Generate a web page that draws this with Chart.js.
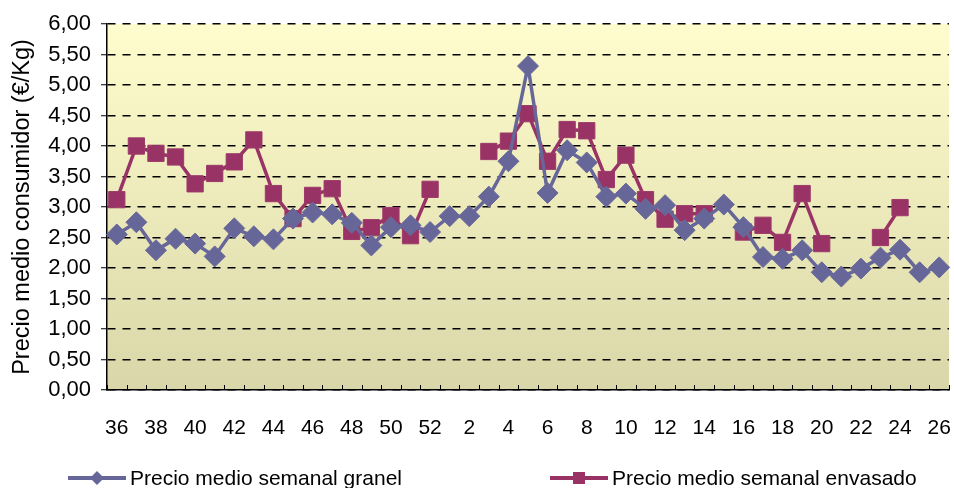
<!DOCTYPE html>
<html>
<head>
<meta charset="utf-8">
<script src="https://cdn.jsdelivr.net/npm/chart.js@4.4.1/dist/chart.umd.min.js"></script>
<style>
  html,body{margin:0;padding:0;background:#fff;}
  #wrap{position:relative;width:954px;height:488px;}
  canvas{position:absolute;left:0;top:0;}
  .lg{position:absolute;font-family:"Liberation Sans",Arial,sans-serif;font-size:21px;color:#000;white-space:nowrap;line-height:24px;}
  .lgi{position:absolute;}
</style>
</head>
<body>
<div id="wrap">
  <canvas id="c" width="954" height="488"></canvas>
  <svg class="lgi" style="left:68px;top:469px" width="58" height="18"><line x1="0" y1="9" x2="58" y2="9" stroke="#666699" stroke-width="4"/><polygon points="29,2 36,9 29,16 22,9" fill="#666699"/></svg>
  <div class="lg" id="lg1" style="left:130px;top:466px"></div>
  <svg class="lgi" style="left:550px;top:469px" width="58" height="18"><line x1="0" y1="9" x2="58" y2="9" stroke="#993366" stroke-width="4"/><rect x="23" y="3" width="12" height="12" fill="#993366"/></svg>
  <div class="lg" id="lg2" style="left:612px;top:466px"></div>
</div>
<script>
const weeks = ['36','37','38','39','40','41','42','43','44','45','46','47','48','49','50','51','52',
  '1','2','3','4','5','6','7','8','9','10','11','12','13','14','15','16','17','18','19','20','21','22','23','24','25','26'];
const granel = [2.55,2.75,2.29,2.48,2.40,2.19,2.65,2.52,2.47,2.81,2.91,2.88,2.74,2.37,2.67,2.70,2.59,
  2.85,2.85,3.17,3.75,5.31,3.23,3.93,3.73,3.17,3.22,2.97,3.03,2.62,2.81,3.04,2.67,2.18,2.15,2.29,1.93,1.86,1.99,2.17,2.30,1.93,2.01];
const envasado = [3.12,4.00,3.88,3.82,3.38,3.55,3.74,4.10,3.22,2.81,3.19,3.30,2.60,2.66,2.86,2.53,3.29,
  null,null,3.91,4.08,4.53,3.75,4.27,4.25,3.45,3.85,3.12,2.80,2.89,2.89,null,2.59,2.70,2.42,3.22,2.40,null,null,2.50,2.99,null,null];
const seriesNames = ['Precio medio semanal granel','Precio medio semanal envasado'];
const yTitle = 'Precio medio consumidor (€/Kg)';

document.getElementById('lg1').textContent = seriesNames[0];
document.getElementById('lg2').textContent = seriesNames[1];

const FONT = '"Liberation Sans", Arial, sans-serif';

const bgPlugin = {
  id: 'bgPlugin',
  beforeDraw(chart) {
    const a = chart.chartArea, ctx = chart.ctx;
    const g = ctx.createLinearGradient(0, a.top, 0, a.bottom);
    g.addColorStop(0, '#FFFDCD');
    g.addColorStop(1, '#D9D6A9');
    ctx.save();
    ctx.fillStyle = g;
    ctx.fillRect(a.left, a.top, a.right - a.left, a.bottom - a.top);
    ctx.restore();
  }
};

const innerTicks = {
  id: 'innerTicks',
  afterDatasetsDraw(chart) {
    const x = chart.scales.x, a = chart.chartArea, ctx = chart.ctx;
    ctx.save();
    ctx.strokeStyle = '#000';
    ctx.lineWidth = 1;
    ctx.beginPath();
    for (let i = 0; i <= weeks.length; i++) {
      const px = Math.round(x.getPixelForValue(i - 0.5)) + 0.5;
      ctx.moveTo(px, a.bottom);
      ctx.lineTo(px, a.bottom - 5);
    }
    ctx.stroke();
    ctx.restore();
  }
};

new Chart(document.getElementById('c'), {
  type: 'line',
  data: {
    labels: weeks,
    datasets: [
      {
        label: seriesNames[0], data: granel,
        borderColor: '#666699', backgroundColor: '#666699',
        borderWidth: 3.5, pointStyle: 'rectRot', pointRadius: 10.5,
        pointBorderColor: '#6a6a9c', pointBorderWidth: 1, pointBackgroundColor: '#666699',
        tension: 0, spanGaps: false
      },
      {
        label: seriesNames[1], data: envasado,
        borderColor: '#993366', backgroundColor: '#993366',
        borderWidth: 3.5, pointStyle: 'rect', pointRadius: 11.5,
        pointBorderColor: '#9c3a6a', pointBorderWidth: 1, pointBackgroundColor: '#993366',
        tension: 0, spanGaps: false
      }
    ]
  },
  options: {
    responsive: false,
    animation: false,
    devicePixelRatio: 1,
    layout: { autoPadding: false, padding: { top: 24, right: 5, left: 0, bottom: 0 } },
    plugins: { legend: { display: false }, tooltip: { enabled: false } },
    scales: {
      x: {
        type: 'category',
        offset: true,
        afterFit(s) { s.height = 98; },
        grid: { display: true, drawOnChartArea: false, drawTicks: true, tickLength: 26, tickColor: 'rgba(0,0,0,0)' },
        border: { display: true, color: '#000', width: 1.5 },
        ticks: {
          autoSkip: false, maxRotation: 0, padding: 0,
          color: '#000', font: { family: FONT, size: 21 },
          callback(v, i) { return i % 2 === 0 ? weeks[i] : ''; }
        }
      },
      y: {
        min: 0, max: 6,
        afterFit(s) { s.width = 107; },
        grid: {
          color: '#000', lineWidth: 1.5,
          drawTicks: true, tickLength: 6, tickBorderDash: [], tickColor: '#000', tickWidth: 1
        },
        border: { display: true, color: '#000', width: 1.5, dash: [8, 7] },
        ticks: {
          stepSize: 0.5, padding: 10, color: '#000', font: { family: FONT, size: 22 },
          callback(v) { return Number(v).toFixed(2).replace('.', ','); }
        },
        title: {
          display: true, text: yTitle, color: '#000',
          font: { family: FONT, size: 23.5 }, padding: { top: 8, bottom: 0 }
        }
      }
    }
  },
  plugins: [bgPlugin, innerTicks]
});
</script>
</body>
</html>
